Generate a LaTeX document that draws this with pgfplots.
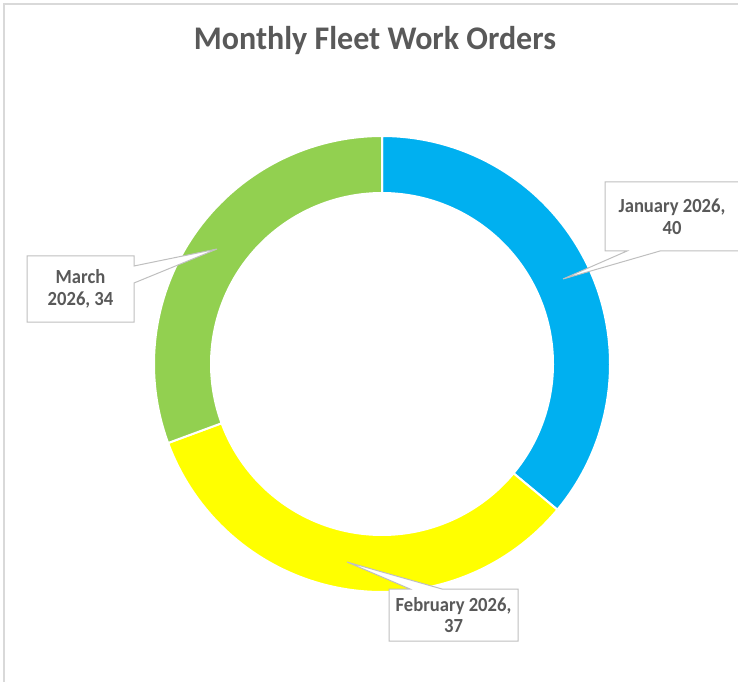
\documentclass[border=0pt]{standalone}
\usepackage{pgfplots}
\pgfplotsset{compat=1.18}
\usepackage{pgfplotstable}
\usepackage{fontspec}
\setmainfont{Carlito}
\newfontfamily\titlefont[FakeStretch=0.97]{Carlito}
\newfontfamily\labelfont[FakeStretch=0.93]{Carlito}
\definecolor{janc}{HTML}{00B0F0}
\definecolor{febc}{HTML}{FFFF00}
\definecolor{marc}{HTML}{92D050}
\definecolor{txt}{HTML}{595959}
\definecolor{boxc}{HTML}{BFBFBF}
\definecolor{framec}{HTML}{D9D9D9}

\pgfplotstableread{
month value
January 40
February 37
March 34
}\datatable
\pgfplotstablegetelem{0}{value}\of\datatable\edef\vJan{\pgfplotsretval}
\pgfplotstablegetelem{1}{value}\of\datatable\edef\vFeb{\pgfplotsretval}
\pgfplotstablegetelem{2}{value}\of\datatable\edef\vMar{\pgfplotsretval}
\pgfmathsetmacro\tot{\vJan+\vFeb+\vMar}
\pgfmathsetmacro\aJ{90}
\pgfmathsetmacro\bJ{90-360*\vJan/\tot}
\pgfmathsetmacro\bF{\bJ-360*\vFeb/\tot}
\pgfmathsetmacro\bM{\bF-360*\vMar/\tot}

% ring segment from angle #2 to #3 (clockwise), colour #1
\newcommand\ringpart[3]{%
  \addplot[fill=#1, draw=white, line width=2pt, line join=round,
    variable=\t, samples at={0,1,...,402}]
  ({382+ifthenelse(\t<=200 || \t>=402,228,171)*cos(ifthenelse(\t<=200,#2+(#3-#2)*\t/200,ifthenelse(\t>=402,#2,#3-(#3-#2)*(\t-201)/200)))},
   {317+ifthenelse(\t<=200 || \t>=402,228,171)*sin(ifthenelse(\t<=200,#2+(#3-#2)*\t/200,ifthenelse(\t>=402,#2,#3-(#3-#2)*(\t-201)/200)))});
}

\begin{document}
\begin{tikzpicture}
\begin{axis}[
  at={(0,0)}, anchor=origin,
  scale only axis, width=738pt, height=681pt,
  xmin=0, xmax=738, ymin=0, ymax=681,
  hide axis, clip=false,
]
\draw[framec, line width=1.5pt] (axis cs:4,-5) -- (axis cs:4,677) -- (axis cs:745,677);

\ringpart{janc}{\aJ}{\bJ}
\ringpart{febc}{\bJ}{\bF}
\ringpart{marc}{\bF}{\bM}

% callouts
\draw[fill=white, draw=boxc, line width=1pt, line join=miter]
  (axis cs:605,499) -- (axis cs:742,499) -- (axis cs:742,430) -- (axis cs:660,430)
  -- (axis cs:563,402) -- (axis cs:627,430) -- (axis cs:605,430) -- cycle;
\node[text=txt, align=center, font=\labelfont\bfseries\fontsize{20}{21.5}\selectfont]
  at (axis cs:672,464.5) {January 2026,\\40};

\draw[fill=white, draw=boxc, line width=1pt, line join=miter]
  (axis cs:27,425) -- (axis cs:134,425) -- (axis cs:134,415) -- (axis cs:217,432)
  -- (axis cs:134,398) -- (axis cs:134,359) -- (axis cs:27,359) -- cycle;
\node[text=txt, align=center, font=\labelfont\bfseries\fontsize{20}{22.5}\selectfont]
  at (axis cs:80.5,392) {March\\2026, 34};

\draw[fill=white, draw=boxc, line width=1pt, line join=miter]
  (axis cs:389,92) -- (axis cs:410,92) -- (axis cs:347,119) -- (axis cs:442,92)
  -- (axis cs:518,92) -- (axis cs:518,40) -- (axis cs:389,40) -- cycle;
\node[text=txt, align=center, font=\labelfont\bfseries\fontsize{20}{21.5}\selectfont]
  at (axis cs:453.5,66) {February 2026,\\37};

\node[text=txt, anchor=base, font=\titlefont\bfseries\fontsize{33}{36}\selectfont]
  at (axis cs:375,631.7) {Monthly Fleet Work Orders};
\end{axis}
\pgfresetboundingbox
\useasboundingbox (0,0) rectangle (738pt,681pt);
\end{tikzpicture}
\end{document}
